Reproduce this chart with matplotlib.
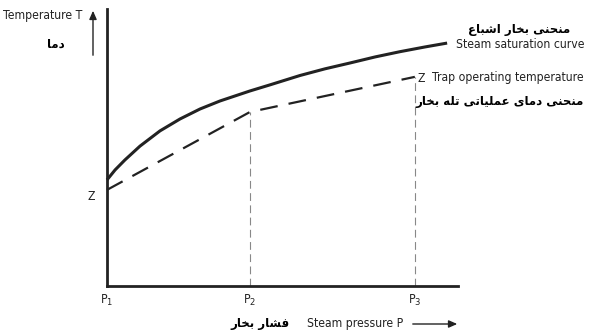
import matplotlib
matplotlib.use("Agg")
import matplotlib.pyplot as plt
from matplotlib import font_manager
from matplotlib.font_manager import FontProperties

# ── data (arbitrary units, axis 0..10) ───────────────────────────────────────
sat_x = [0, 0.23, 0.51, 0.94, 1.51, 2.08, 2.65, 3.22, 4.07, 4.64, 5.50,
         6.21, 6.92, 7.64, 8.35, 9.06, 9.69]
sat_y = [3.83, 4.19, 4.55, 5.05, 5.60, 6.03, 6.39, 6.68, 7.04, 7.26, 7.60,
         7.84, 8.05, 8.27, 8.46, 8.63, 8.77]

trap_x = [0, 4.07, 8.77]
trap_y = [3.47, 6.28, 7.55]

p_ticks = [0, 4.07, 8.77]
p_labels = ["P$_1$", "P$_2$", "P$_3$"]

# ── Persian shaping (presentation forms, right-to-left) ──────────────────────
FORMS = {
    'ا': ('\uFE8D', '\uFE8E', None, None),
    'ب': ('\uFE8F', '\uFE90', '\uFE91', '\uFE92'),
    'ت': ('\uFE95', '\uFE96', '\uFE97', '\uFE98'),
    'ح': ('\uFEA1', '\uFEA2', '\uFEA3', '\uFEA4'),
    'خ': ('\uFEA5', '\uFEA6', '\uFEA7', '\uFEA8'),
    'د': ('\uFEA9', '\uFEAA', None, None),
    'ر': ('\uFEAD', '\uFEAE', None, None),
    'ش': ('\uFEB5', '\uFEB6', '\uFEB7', '\uFEB8'),
    'ع': ('\uFEC9', '\uFECA', '\uFECB', '\uFECC'),
    'ف': ('\uFED1', '\uFED2', '\uFED3', '\uFED4'),
    'ل': ('\uFEDD', '\uFEDE', '\uFEDF', '\uFEE0'),
    'م': ('\uFEE1', '\uFEE2', '\uFEE3', '\uFEE4'),
    'ن': ('\uFEE5', '\uFEE6', '\uFEE7', '\uFEE8'),
    'ه': ('\uFEE9', '\uFEEA', '\uFEEB', '\uFEEC'),
    'ی': ('\uFBFC', '\uFBFD', '\uFBFE', '\uFBFF'),
}


def shape_word(w):
    out = []
    for i, c in enumerate(w):
        f = FORMS[c]
        prev = w[i - 1] if i > 0 else None
        nxt = w[i + 1] if i + 1 < len(w) else None
        jp = prev is not None and FORMS[prev][2] is not None
        jn = nxt is not None and f[2] is not None
        if jp and jn:
            out.append(f[3])
        elif jp:
            out.append(f[1])
        elif jn:
            out.append(f[2])
        else:
            out.append(f[0])
    return ''.join(out)


def fa(text):
    s = ' '.join(shape_word(w) for w in text.split(' '))
    return s[::-1]


# look for a narrow / condensed sans for the latin labels
narrow = None
for f in font_manager.fontManager.ttflist:
    nm = f.name.lower()
    fn = f.fname.lower()
    if f.style != 'normal' or f.weight not in (400, 'normal', 'regular'):
        continue
    if ('narrow' in nm or 'condensed' in nm or 'condensed' in fn
            or 'narrow' in fn) and 'mono' not in nm and 'serif' not in nm:
        if 'bold' in fn or 'italic' in fn or 'light' in fn:
            continue
        narrow = f.fname
        break

if narrow:
    EN = dict(fontproperties=FontProperties(fname=narrow, size=8.7))
else:
    EN = dict(family='DejaVu Sans', fontsize=8)
FA = dict(family='DejaVu Sans', fontweight='bold', fontsize=8.5)
INK = '#222222'

W, H = 590, 335
fig = plt.figure(figsize=(W / 100, H / 100), dpi=100)
ax = fig.add_axes([107 / W, (H - 286) / H, (458 - 107) / W, (286 - 9) / H])
ax.set_xlim(0, 10)
ax.set_ylim(0, 10)
for s in ['top', 'right']:
    ax.spines[s].set_visible(False)
for s in ['left', 'bottom']:
    ax.spines[s].set_linewidth(2)
    ax.spines[s].set_color(INK)
ax.set_xticks([])
ax.set_yticks([])

ax.plot(sat_x, sat_y, color=INK, lw=2.2, solid_capstyle='butt',
        solid_joinstyle='round', clip_on=False)
ax.plot(trap_x, trap_y, color=INK, lw=1.6, dashes=(8, 5), clip_on=False)
for px, py in zip(trap_x[1:], trap_y[1:]):
    ax.plot([px, px], [0, py], color='#888888', lw=0.8, dashes=(7, 4))

for px, lab in zip(p_ticks, p_labels):
    ax.text(px, -0.25, lab, color=INK, ha='center', va='top', **EN)

ax.text(-0.35, trap_y[0] - 0.25, 'Z', color=INK, ha='right', va='center', **EN)


def ftext(x, y, s, **kw):
    fig.text(x / W, 1 - y / H, s, **kw)


ftext(3, 15, 'Temperature T', color=INK, ha='left', va='center', **EN)
ftext(65, 44, fa('دما'), ha='right', va='center', color='black', **FA)
fig.add_artist(matplotlib.patches.FancyArrowPatch(
    (93 / W, 1 - 58 / H), (93 / W, 1 - 8 / H), transform=fig.transFigure,
    arrowstyle='-|>,head_length=5,head_width=2.2', color=INK, lw=1))

ftext(570, 30, fa('منحنی بخار اشباع'), ha='right', va='center',
      color='black', **FA)
ftext(584, 45, 'Steam saturation curve', color=INK, ha='right', va='center',
      **EN)
ftext(584, 78, 'Trap operating temperature', color=INK, ha='right',
      va='center', **EN)
ftext(418, 78, 'Z', color=INK, ha='left', va='center', **EN)
ftext(584, 102, fa('منحنی دمای عملیاتی تله بخار'), ha='right',
      va='center', color='black', **FA)

ftext(290, 324, fa('فشار بخار'), ha='right', va='center', color='black', **FA)
ftext(307, 324, 'Steam pressure P', color=INK, ha='left', va='center', **EN)
fig.add_artist(matplotlib.patches.FancyArrowPatch(
    (410 / W, 1 - 324 / H), (460 / W, 1 - 324 / H), transform=fig.transFigure,
    arrowstyle='-|>,head_length=5,head_width=2.2', color=INK, lw=1))

fig.savefig('out.png', dpi=100, facecolor='white')
